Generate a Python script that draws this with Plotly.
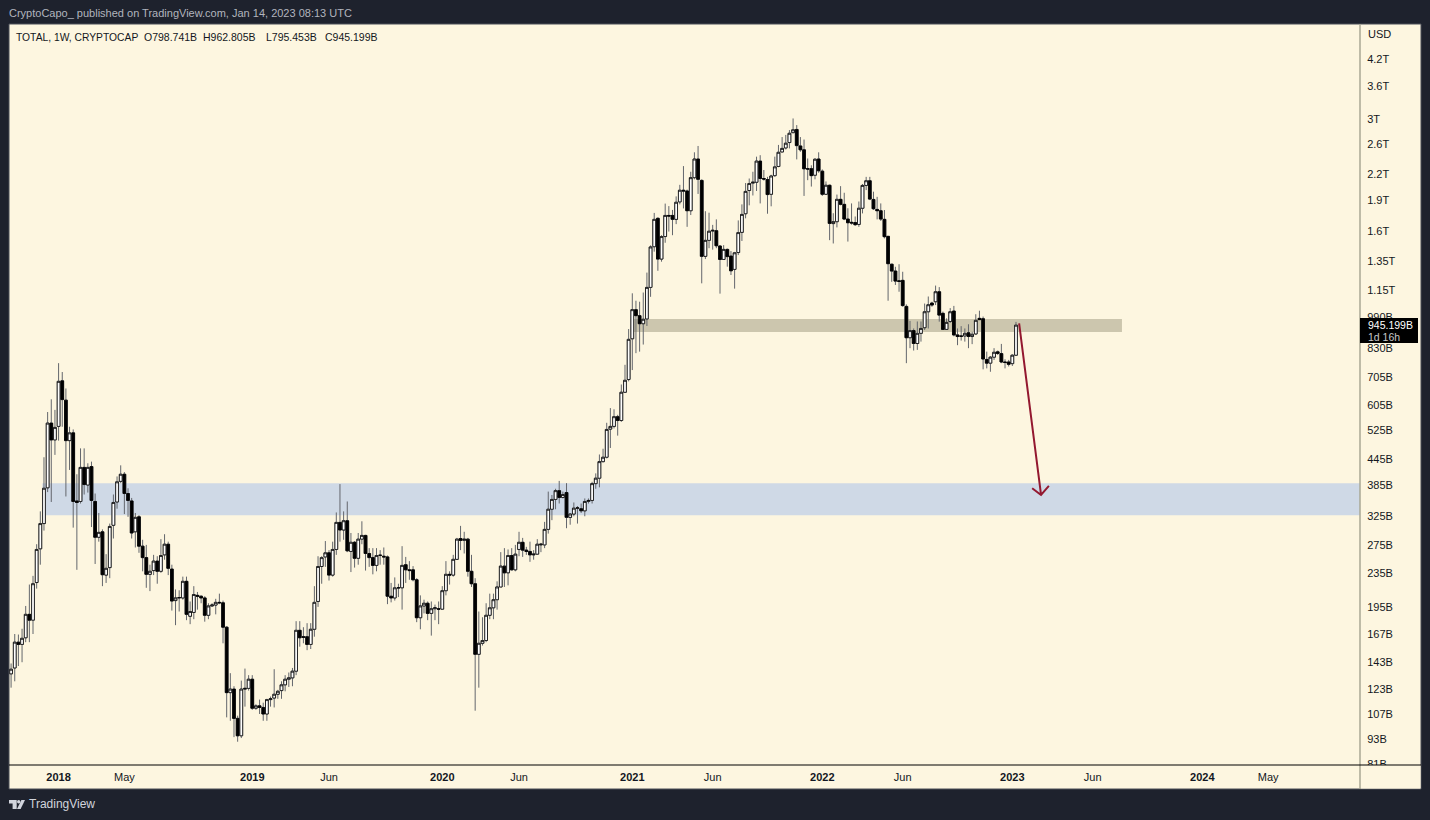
import math
import pandas as pd
import plotly.graph_objects as go

# TOTAL crypto market cap, weekly candles, values in billions USD
first_week = "2017-10-02"

opens = [
    134, 138.5, 160, 158, 164, 187, 181, 223.5, 270, 311,
    380, 546, 497, 536, 692, 621, 495, 517, 353, 352,
    426, 386, 428, 352, 288, 297, 233, 243, 308, 351,
    394, 410, 368, 353, 297, 323, 274, 257, 234, 239,
    252, 238, 261, 277, 241, 202, 205, 205, 225, 185,
    189, 208, 207, 205, 186, 196, 197, 200, 199.5, 174,
    120.6, 123, 104.4, 94.7, 123, 123.5, 130, 110.5, 112, 111,
    107, 116, 117, 119.5, 122, 126, 130, 131, 136, 171,
    165, 165, 158, 172, 201, 244.5, 258, 264, 233, 269,
    313, 300, 316, 266, 280, 256, 285, 291, 263, 257,
    246, 260, 259, 258, 207, 205, 217, 217, 247, 240,
    240, 227, 183.5, 196, 199, 188, 193, 193, 192.5, 213.5,
    234, 233, 254.5, 286, 283, 285, 238, 222, 149.5, 159,
    161.5, 186, 194, 203, 218, 245, 236, 260, 240, 269,
    280, 268, 266, 261, 262, 276, 276, 301, 337, 356,
    374, 360, 370, 322, 328, 339, 338, 334, 352, 354,
    389, 401, 440, 451, 528, 536, 566, 554, 649, 697,
    876, 1031, 997, 953, 979, 1168, 1467, 1720, 1369, 1553,
    1748, 1748, 1710, 1886, 2013, 2005, 1795, 2160, 2398, 2127,
    1390, 1520, 1602, 1605, 1473, 1366, 1445, 1392, 1292, 1420,
    1590, 1765, 2010, 2095, 2105, 2370, 2150, 2138, 1968, 2185,
    2300, 2495, 2552, 2630, 2780, 2830, 2580, 2525, 2272, 2272,
    2190, 2398, 2240, 1968, 2070, 1670, 1688, 1913, 1860, 1713,
    1682, 1680, 1662, 1820, 2068, 2123, 1912, 1808, 1795, 1710,
    1555, 1330, 1280, 1212, 1215, 1050, 881, 917, 853, 903,
    932, 1019, 1070, 1078, 1140, 1010, 923, 965, 1023, 895,
    890, 890, 906, 887, 900, 982, 980, 780, 764, 790,
    814, 806, 769, 769, 762, 798.741,
]
highs = [
    142, 167.5, 167, 172.5, 196, 221, 232, 277, 333, 451,
    581, 624, 588, 764, 727, 663, 535, 527, 410, 474,
    474, 436, 440, 368, 330, 301, 262, 311, 366, 405,
    431, 415, 379, 359, 330, 326, 284, 276, 247, 261,
    259, 285, 293, 281, 247, 215, 214, 231, 231, 201,
    219, 212, 208, 207, 199, 199, 204, 210, 202, 175,
    134.5, 125, 106, 129, 138, 133, 133, 113, 116, 114,
    116.5, 118, 137.5, 122.5, 128.5, 133, 135, 138.5, 180, 180,
    174, 178, 178, 219, 259, 259, 282, 268, 281, 331,
    388, 333, 352, 295, 282, 295, 315, 292, 271, 271,
    271, 268, 272, 260, 223, 230, 222, 274, 258, 252,
    245, 229, 208, 203, 201, 201, 197.5, 201, 219, 252,
    238, 261, 287, 307, 297, 287, 261, 229, 190, 184,
    199, 210, 210, 225, 265, 271, 269, 271, 276, 297,
    287, 273, 281, 268, 285, 279, 314, 372, 365, 378,
    395, 372, 390, 330, 350, 343, 348, 358, 358, 393,
    412, 458, 473, 547, 594, 590, 572, 678, 757, 925,
    1130, 1084, 1078, 1135, 1269, 1478, 1773, 1730, 1565, 1868,
    1842, 1803, 1945, 2075, 2305, 2020, 2233, 2490, 2580, 2140,
    1790, 1775, 1658, 1710, 1478, 1480, 1452, 1432, 1425, 1700,
    1860, 2096, 2150, 2233, 2430, 2450, 2255, 2170, 2195, 2430,
    2595, 2712, 2745, 2820, 3010, 2900, 2712, 2675, 2405, 2315,
    2410, 2490, 2262, 2115, 2078, 1770, 1965, 2060, 1985, 1820,
    1870, 1738, 1890, 2085, 2170, 2170, 1997, 1940, 1870, 1802,
    1558, 1334, 1311, 1330, 1275, 1062, 968, 928, 965, 965,
    1067, 1110, 1078, 1180, 1170, 1020, 982, 1040, 1053, 928,
    940, 928, 950, 911, 1005, 1025, 992, 815, 795, 831,
    820, 851, 781, 778, 803, 962.805,
]
lows = [
    124, 128.5, 140, 143, 160, 160, 167.5, 216, 247, 299,
    371, 351, 457, 495, 535, 362, 420, 304, 240, 348,
    366, 370, 305, 248, 281, 219, 223, 229, 286, 338,
    390, 328, 323, 286, 272, 264, 238, 217, 213, 233,
    222, 236, 254, 233, 191, 176, 190, 203, 181, 177,
    182, 192, 199, 179.5, 182, 195, 187, 198, 159, 105,
    103, 94, 91.6, 93.5, 111.5, 122, 109.5, 109.5, 107, 103,
    103, 111.5, 111, 116.5, 116.5, 121.5, 124.5, 125, 133, 156,
    159, 153, 154, 165, 195, 222, 244, 226, 231, 261,
    281, 284, 265, 237, 243, 247, 277, 239, 244, 234,
    238, 247, 247, 198, 200, 202, 206, 192, 223, 227,
    225, 179, 172, 188, 181, 166, 181, 177, 192, 208,
    221, 231, 254, 268, 263, 231, 218, 109, 124, 157,
    160, 182, 182, 192, 218, 218, 220, 239, 238, 259,
    258, 261, 251, 254, 261, 265, 271, 294, 317, 337,
    348, 358, 303, 309, 324, 311, 330, 324, 348, 348,
    378, 381, 438, 448, 475, 530, 509, 550, 648, 690,
    735, 808, 815, 848, 941, 1108, 1427, 1282, 1349, 1500,
    1597, 1565, 1665, 1860, 1818, 1640, 1752, 2140, 1972, 1195,
    1369, 1455, 1443, 1455, 1128, 1362, 1312, 1252, 1160, 1400,
    1515, 1720, 1850, 1955, 2005, 1870, 2125, 1765, 1840, 2170,
    2290, 2490, 2530, 2545, 2770, 2393, 2497, 1950, 2130, 2055,
    2140, 2220, 1950, 1960, 1522, 1494, 1635, 1850, 1703, 1510,
    1660, 1648, 1640, 1768, 2015, 1905, 1802, 1710, 1695, 1537,
    1084, 1205, 1184, 1140, 1048, 764, 831, 820, 823, 862,
    920, 928, 1048, 1058, 964, 920, 920, 957, 888, 845,
    867, 862, 831, 850, 895, 973, 738, 742, 728, 778,
    800, 764, 742, 750, 752, 795.453,
]
closes = [
    137.5, 160, 158, 163.5, 187, 181, 222, 269, 311, 379,
    546, 497, 533, 690, 623, 495, 517, 352, 350, 426,
    387, 426, 354, 288, 296, 233.5, 242, 306, 350, 393,
    410, 368, 354, 295, 322, 274, 257, 234, 238, 252,
    238, 260, 277, 242, 201.5, 205, 205.5, 225, 187, 190,
    209, 207, 205, 186, 196, 197, 200, 199.5, 174, 120.6,
    123, 104.4, 94.7, 123, 123.5, 130, 110.5, 112, 111, 107,
    116, 116.5, 119.5, 121.5, 126, 130, 131, 136, 171, 164,
    164.5, 158, 172, 200, 244.5, 257, 264, 233, 269, 313,
    300, 316, 267, 280, 256, 285, 291, 263, 257, 246,
    260, 260.5, 258, 207, 205, 217, 217, 246, 240, 239,
    227, 183.5, 196, 199, 188, 193, 194, 192.5, 213.5, 234,
    233, 254.5, 285, 283, 285, 238, 222, 149.5, 159, 161.5,
    186, 194, 203, 218, 245, 236, 260, 240, 262, 280,
    268, 266, 261, 262, 277, 277, 301, 337, 356, 374,
    360, 366, 322, 328, 339, 339.5, 334, 352, 354, 389,
    401, 440, 451, 527, 536, 566, 554, 649, 694, 873,
    1031, 997, 953, 977, 1168, 1465, 1710, 1369, 1553, 1748,
    1742, 1710, 1882, 2013, 2005, 1795, 2160, 2398, 2140, 1390,
    1520, 1600, 1608, 1475, 1366, 1445, 1388, 1282, 1418, 1588,
    1758, 2000, 2090, 2105, 2370, 2150, 2143, 1965, 2180, 2295,
    2490, 2545, 2620, 2770, 2825, 2585, 2525, 2270, 2267, 2185,
    2395, 2245, 1968, 2070, 1672, 1688, 1913, 1860, 1713, 1678,
    1676, 1660, 1820, 2068, 2123, 1916, 1815, 1795, 1713, 1552,
    1334, 1280, 1210, 1208, 1055, 881, 917, 853, 903, 928,
    1019, 1060, 1058, 1140, 1000, 923, 960, 1019, 895, 887,
    888, 903, 887, 898, 971, 975, 782, 764, 790, 812,
    807, 769, 767, 759, 798.741, 945.199,
]

y_ticks = [4200, 3600, 3000, 2600, 2200, 1900, 1600, 1350, 1150, 990, 830, 705, 605,
           525, 445, 385, 325, 275, 235, 195, 167, 143, 123, 107, 93, 81]
y_labels = ["4.2T", "3.6T", "3T", "2.6T", "2.2T", "1.9T", "1.6T", "1.35T", "1.15T", "990B",
            "830B", "705B", "605B", "525B", "445B", "385B", "325B", "275B", "235B", "195B",
            "167B", "143B", "123B", "107B", "93B", "81B"]

x_ticks = ["2018-01-01", "2018-05-07", "2019-01-07", "2019-06-03", "2020-01-06", "2020-06-01",
           "2021-01-04", "2021-06-07", "2022-01-03", "2022-06-06", "2023-01-02", "2023-06-05",
           "2024-01-01", "2024-05-06"]
x_labels = ["<b>2018</b>", "May", "<b>2019</b>", "Jun", "<b>2020</b>", "Jun", "<b>2021</b>", "Jun",
            "<b>2022</b>", "Jun", "<b>2023</b>", "Jun", "<b>2024</b>", "May"]

# drawn zones and the forecast arrow
tan_zone_dates = ["2021-01-01", "2023-07-31"]
tan_zone_prices = [910, 978]
blue_zone_dates = ["2017-12-01", "2024-10-29"]
blue_zone_prices = [326, 390]
arrow_dates = ["2023-01-15", "2023-02-26", "2023-02-09", "2023-02-26", "2023-03-13"]
arrow_prices = [955, 365, 379, 365, 384]

W, H = 1430, 820
LEFT, RIGHT, TOP, BOTTOM = 9, 1360, 24, 765
BG = "#1e222d"
CREAM = "#fdf6e0"
INK = "#131722"


def px(x):
    return (x - LEFT) / (RIGHT - LEFT)


def py(y):
    return (BOTTOM - y) / (BOTTOM - TOP)


weeks = pd.date_range(first_week, periods=len(closes), freq="7D")

fig = go.Figure()

# wicks first, thin grey
fig.add_trace(go.Candlestick(
    x=weeks, open=opens, high=highs, low=lows, close=closes,
    increasing=dict(line=dict(color="#63666c", width=1), fillcolor="rgba(0,0,0,0)"),
    decreasing=dict(line=dict(color="#63666c", width=1), fillcolor="rgba(0,0,0,0)"),
    hoverinfo="skip", showlegend=False,
))
# bodies on top, clipped to open/close
fig.add_trace(go.Candlestick(
    x=weeks, open=opens, close=closes,
    high=[max(o, c) for o, c in zip(opens, closes)],
    low=[min(o, c) for o, c in zip(opens, closes)],
    increasing=dict(line=dict(color="#000000", width=0.8), fillcolor="#ffffff"),
    decreasing=dict(line=dict(color="#000000", width=0.8), fillcolor="#000000"),
    hoverinfo="skip", showlegend=False,
))
fig.add_trace(go.Scatter(
    x=arrow_dates, y=arrow_prices, mode="lines",
    line=dict(color="#93182f", width=2), hoverinfo="skip", showlegend=False,
))

shapes = [
    # cream panel including the two axis strips
    dict(type="rect", xref="paper", yref="paper", x0=px(9), x1=px(1421), y0=py(789), y1=py(24),
         fillcolor=CREAM, line=dict(color="#4b4f58", width=1), layer="below"),
    dict(type="rect", xref="x", yref="y", x0=blue_zone_dates[0], x1=blue_zone_dates[1],
         y0=blue_zone_prices[0], y1=blue_zone_prices[1],
         fillcolor="#cfd9e6", line=dict(width=0), layer="below"),
    dict(type="rect", xref="x", yref="y", x0=tan_zone_dates[0], x1=tan_zone_dates[1],
         y0=tan_zone_prices[0], y1=tan_zone_prices[1],
         fillcolor="#ccc6ae", line=dict(width=0), layer="below"),
    # the lowest price label is cut by the time axis strip
    dict(type="rect", xref="paper", yref="paper", x0=px(1361), x1=px(1420.5), y0=py(788.5), y1=py(765),
         fillcolor=CREAM, line=dict(width=0), layer="above"),
    # axis separators
    dict(type="line", xref="paper", yref="paper", x0=px(1360), x1=px(1360), y0=py(789), y1=py(24),
         line=dict(color="#a9a794", width=1.5), layer="above"),
    dict(type="line", xref="paper", yref="paper", x0=px(9), x1=px(1421), y0=py(765), y1=py(765),
         line=dict(color="#000000", width=1), layer="above"),
    # last price tag
    dict(type="rect", xref="paper", yref="paper", x0=px(1360), x1=px(1418), y0=py(343), y1=py(318),
         fillcolor="#000000", line=dict(width=0), layer="above"),
    # TradingView logo
    dict(type="path", xref="paper", yref="paper", fillcolor="#d1d4dc", line=dict(width=0), layer="above",
         path=f"M {px(9)} {py(800)} L {px(16.7)} {py(800)} L {px(16.7)} {py(809)} L {px(12.6)} {py(809)} "
              f"L {px(12.6)} {py(803.6)} L {px(9)} {py(803.6)} Z"),
    dict(type="circle", xref="paper", yref="paper", fillcolor="#d1d4dc", line=dict(width=0), layer="above",
         x0=px(17), x1=px(20.4), y0=py(803.6), y1=py(800)),
    dict(type="path", xref="paper", yref="paper", fillcolor="#d1d4dc", line=dict(width=0), layer="above",
         path=f"M {px(21.4)} {py(800)} L {px(25)} {py(800)} L {px(20.6)} {py(809)} L {px(17)} {py(809)} Z"),
]


def label(x, y, text, color=INK, size=11):
    # annotation boxes add about 2px of padding on the left
    return dict(xref="paper", yref="paper", x=px(x - 2), y=py(y), text=text, showarrow=False,
                xanchor="left", yanchor="middle", align="left",
                font=dict(family="Liberation Sans", size=size, color=color))


annotations = [
    label(9, 13, "CryptoCapo_ published on TradingView.com, Jan 14, 2023 08:13 UTC", color="#b2b5be"),
    label(16, 37, "TOTAL, 1W, CRYPTOCAP", size=10.3),
    label(144, 37, "O798.741B", size=10.5),
    label(203, 37, "H962.805B", size=10.5),
    label(266, 37, "L795.453B", size=10.5),
    label(325, 37, "C945.199B", size=10.5),
    label(1368, 34, "USD"),
    label(1368, 325, "945.199B", color="#ffffff", size=10.5),
    label(1368, 337, "1d 16h", color="#c8c8c8", size=10.5),
    label(29, 804, "TradingView", color="#d1d4dc", size=12),
]

fig.update_layout(
    width=W, height=H, autosize=False,
    margin=dict(l=LEFT, r=W - RIGHT, t=TOP, b=H - BOTTOM, pad=0),
    paper_bgcolor=BG, plot_bgcolor="rgba(0,0,0,0)",
    showlegend=False, shapes=shapes, annotations=annotations,
    boxgap=0.25, boxgroupgap=0,
    font=dict(family="Liberation Sans", size=11, color=INK),
    xaxis=dict(
        type="date", range=["2017-09-28", "2024-10-29"], rangeslider=dict(visible=False),
        showgrid=False, zeroline=False, showline=False,
        tickmode="array", tickvals=x_ticks, ticktext=x_labels,
        ticks="outside", ticklen=2, tickcolor="rgba(0,0,0,0)",
        tickfont=dict(family="Liberation Sans", size=11, color=INK),
    ),
    yaxis=dict(
        type="log", side="right",
        range=[math.log10(80.4), math.log10(5110)],
        showgrid=False, zeroline=False, showline=False,
        tickmode="array", tickvals=y_ticks, ticktext=y_labels,
        ticks="outside", ticklen=4, tickcolor="rgba(0,0,0,0)",
        tickfont=dict(family="Liberation Sans", size=11, color=INK),
    ),
)

fig.write_html(
    "out.html",
    config={"displayModeBar": False},
    post_script="document.body.style.margin='0';document.body.style.overflow='hidden';",
)
